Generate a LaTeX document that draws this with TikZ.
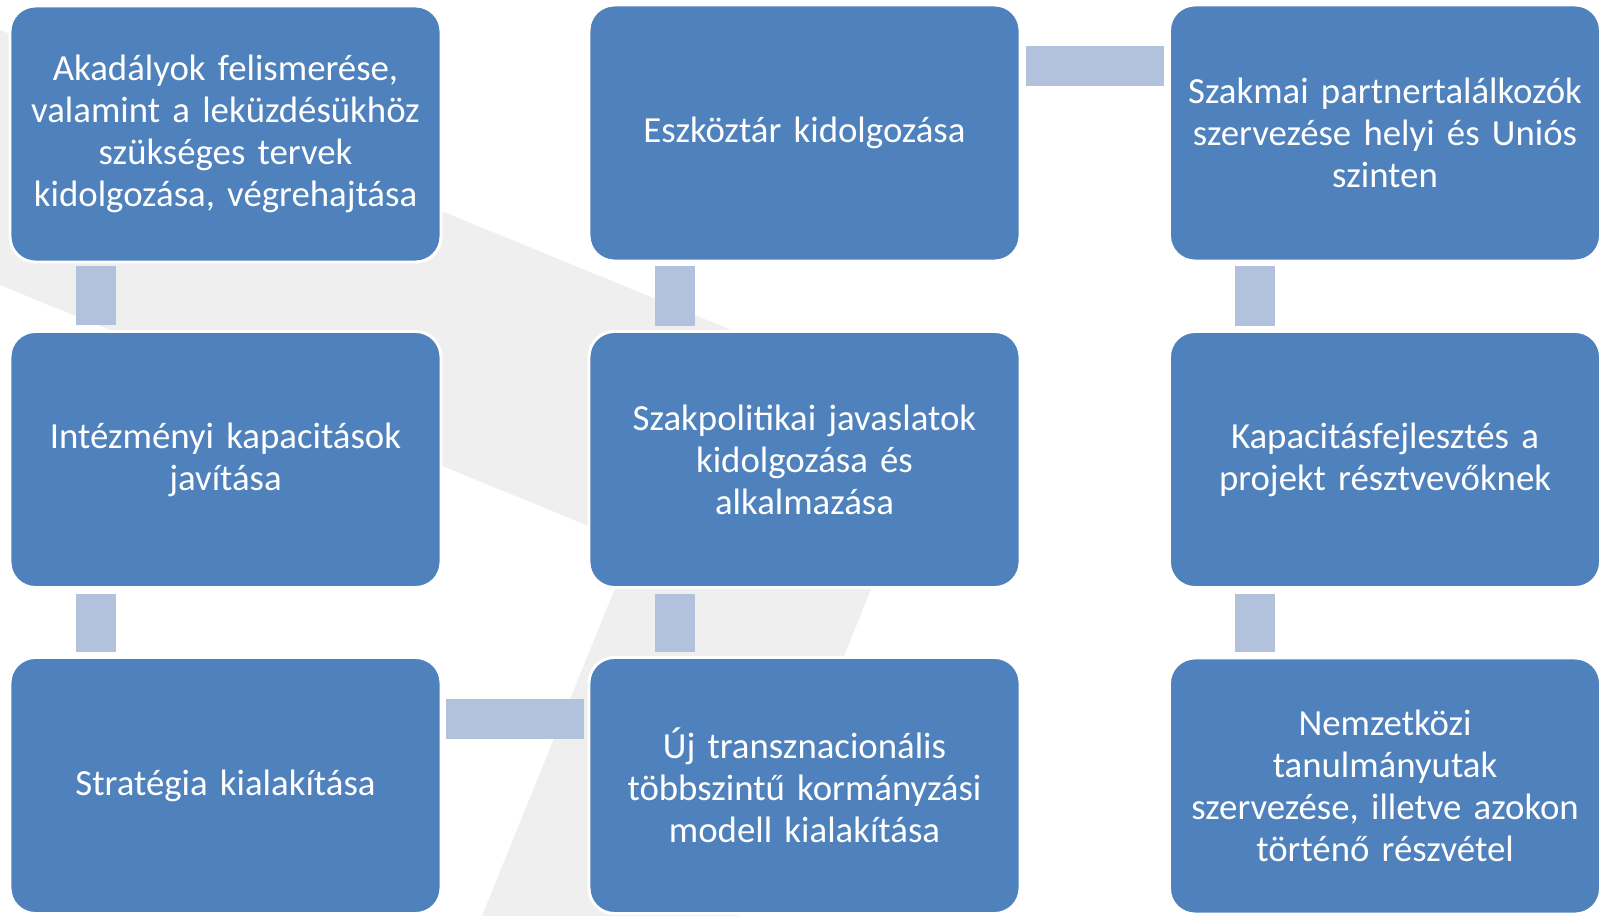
\documentclass[tikz,border=0pt]{standalone}
\usepackage{fontspec}
\setmainfont{Carlito}
\usetikzlibrary{calc}
\definecolor{boxblue}{HTML}{4F81BD}
\definecolor{connblue}{HTML}{B2C1DC}
\definecolor{bggray}{HTML}{EFEFEF}
\tikzset{
  box/.style={rectangle, rounded corners=19pt, fill=boxblue, draw=white, line width=2.2pt,
    minimum width=323.25pt, minimum height=192pt, outer sep=0pt, inner sep=0pt,
    text=white, align=center, text width=318pt,
    font=\fontsize{27.6pt}{31.5pt}\selectfont},
  conn/.style={draw=connblue, line width=30pt, line cap=butt}
}
\begin{document}
\begin{tikzpicture}[x=0.75pt,y=-0.75pt]
\useasboundingbox (0,0) rectangle (1602,916);
\fill[white] (0,0) rectangle (1602,916);
% background "7" shape
\fill[bggray] (0,30) -- (941,416) -- (739,916) -- (482,916) -- (633,544) -- (0,285) -- cycle;
% boxes
\node[box] (a) at (225.5,134) {Akadályok felismerése,\\valamint a leküzdésükhöz\\szükséges tervek\\kidolgozása, végrehajtása};
\node[box] (b) at (804.5,133) {Eszköztár kidolgozása};
\node[box] (c) at (1385,133) {Szakmai partnertalálkozók\\szervezése helyi és Uniós\\szinten};
\node[box] (d) at (225.5,459.5) {Intézményi kapacitások\\javítása};
\node[box] (e) at (804.5,459.5) {Szakpolitikai javaslatok\\kidolgozása és\\alkalmazása};
\node[box] (f) at (1385,459.5) {Kapacitásfejlesztés a\\projekt résztvevőknek};
\node[box] (g) at (225.5,785.5) {Stratégia kialakítása};
\node[box] (h) at (804.5,785.5) {Új transznacionális\\többszintű kormányzási\\modell kialakítása};
\node[box] (i) at (1385,786) {Nemzetközi\\tanulmányutak\\szervezése, illetve azokon\\történő részvétel};
% connectors
\draw[conn] ($(a.south west)+(86,4)$) -- ($(d.north west)+(86,-6.5)$);
\draw[conn] ($(d.south west)+(86,6)$) -- ($(g.north west)+(86,-6)$);
\draw[conn] ($(g.north east)+(5,61.5)$) -- ($(h.north west)+(-5,61.5)$);
\draw[conn] ($(h.north west)+(86,-6)$) -- ($(e.south west)+(86,6)$);
\draw[conn] ($(e.north west)+(86,-6)$) -- ($(b.south west)+(86,5)$);
\draw[conn] ($(b.north east)+(6,61)$) -- ($(c.north west)+(-6,61)$);
\draw[conn] ($(c.south west)+(85,5)$) -- ($(f.north west)+(85,-6)$);
\draw[conn] ($(f.south west)+(85,6)$) -- ($(i.north west)+(85,-6.5)$);
\end{tikzpicture}
\end{document}
